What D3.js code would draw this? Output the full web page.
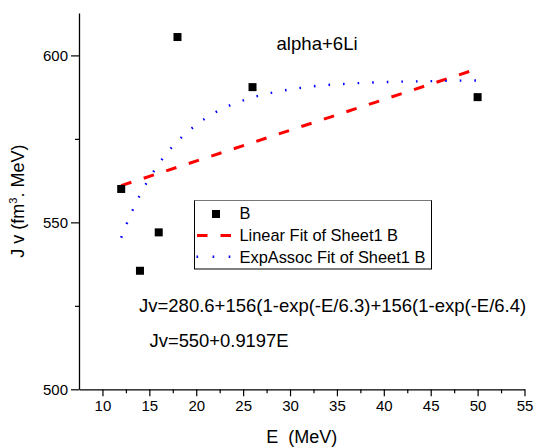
<!DOCTYPE html>
<html>
<head>
<meta charset="utf-8">
<script src="https://cdn.jsdelivr.net/npm/d3@7"></script>
<style>
  html, body { margin: 0; padding: 0; background: #fff; }
  svg { display: block; font-family: "Liberation Sans", Arial, sans-serif; }
</style>
</head>
<body>
<svg id="chart" width="537" height="447"></svg>
<script>
// ---- data ----
const pointE  = [12, 14, 16, 18, 26, 50];
const pointJv = [560.0, 535.5, 547.0, 605.5, 590.5, 587.5];

const linearE  = [12, 50];
const linearJv = [561.0, 596.0];

const expE  = [12, 12.5, 13, 14, 15, 16, 17, 18, 19, 20, 22, 24, 26, 28, 30, 33, 36, 40, 45, 50];
const expJv = [545.4, 549.0, 552.3, 558.2, 563.2, 567.5, 571.2, 574.3, 576.9, 579.2, 582.9, 585.5, 587.4, 588.8, 589.8, 590.9, 591.5, 592.0, 592.3, 592.5];

const xTicks = [10, 15, 20, 25, 30, 35, 40, 45, 50, 55];
const xMinorTicks = [12.5, 17.5, 22.5, 27.5, 32.5, 37.5, 42.5, 47.5, 52.5];
const yTicks = [500, 550, 600];
const yMinorTicks = [525, 575];

const legendLabels = ["B", "Linear Fit of Sheet1 B", "ExpAssoc Fit of Sheet1 B"];
const annotationLabel = "alpha+6Li";
const eqExp = "Jv=280.6+156(1-exp(-E/6.3)+156(1-exp(-E/6.4)";
const eqLin = "Jv=550+0.9197E";

// ---- scales ----
const svg = d3.select("#chart");
const x = d3.scaleLinear().domain([7.5, 55]).range([79, 524.5]);
const y = d3.scaleLinear().domain([500, 612.7]).range([389.3, 13]);

// ---- axes ----
const xAxis = svg.append("g").attr("transform", `translate(0,${y(500)})`);
xAxis.call(d3.axisBottom(x).tickValues(xTicks).tickSize(7).tickPadding(4).tickSizeOuter(0));
const xMinor = svg.append("g").attr("transform", `translate(0,${y(500)})`);
xMinor.call(d3.axisBottom(x).tickValues(xMinorTicks).tickSize(4).tickFormat("").tickSizeOuter(0));
xMinor.select(".domain").remove();

const yAxis = svg.append("g").attr("transform", `translate(${x(7.5)},0)`);
yAxis.call(d3.axisLeft(y).tickValues(yTicks).tickSize(8).tickPadding(3).tickSizeOuter(0));
const yMinor = svg.append("g").attr("transform", `translate(${x(7.5)},0)`);
yMinor.call(d3.axisLeft(y).tickValues(yMinorTicks).tickSize(4).tickFormat("").tickSizeOuter(0));
yMinor.select(".domain").remove();

svg.selectAll(".domain").attr("stroke", "#000").attr("stroke-width", 1.3);
svg.selectAll(".tick line").attr("stroke", "#000").attr("stroke-width", 1.2);
svg.selectAll(".tick text")
  .attr("font-family", "'Liberation Sans', Arial, sans-serif")
  .attr("font-size", 15).attr("fill", "#000");

// ---- axis titles ----
svg.append("text")
  .attr("x", (x(7.5) + x(55)) / 2).attr("y", 443)
  .attr("text-anchor", "middle").attr("font-size", 18)
  .attr("xml:space", "preserve")
  .text("E  (MeV)");

const yt = svg.append("text")
  .attr("transform", `translate(23.5,${(y(500) + y(612.7)) / 2}) rotate(-90)`)
  .attr("text-anchor", "middle").attr("font-size", 18);
yt.append("tspan").text("J v (fm");
yt.append("tspan").attr("font-size", 11).attr("dy", -7).text("3");
yt.append("tspan").attr("dy", 7).text(". MeV)");

// ---- fit curves ----
const linearData = linearE.map((e, i) => [e, linearJv[i]]);
const expData = expE.map((e, i) => [e, expJv[i]]);

svg.append("path")
  .attr("d", d3.line().x(d => x(d[0])).y(d => y(d[1]))(linearData))
  .attr("fill", "none").attr("stroke", "#ff0000").attr("stroke-width", 3)
  .attr("stroke-dasharray", "10.7 13");

svg.append("path")
  .attr("d", d3.line().x(d => x(d[0])).y(d => y(d[1])).curve(d3.curveMonotoneX)(expData))
  .attr("fill", "none").attr("stroke", "#0000ff").attr("stroke-width", 2.4)
  .attr("stroke-dasharray", "1.6 13");

// ---- points ----
svg.selectAll("rect.pt")
  .data(pointE.map((e, i) => [e, pointJv[i]]))
  .enter().append("rect").attr("class", "pt")
  .attr("x", d => x(d[0]) - 4).attr("y", d => y(d[1]) - 4)
  .attr("width", 8).attr("height", 8).attr("fill", "#000");

// ---- legend ----
const lg = svg.append("g");
lg.append("rect")
  .attr("x", 194.5).attr("y", 200.5).attr("width", 237).attr("height", 68.5)
  .attr("fill", "#fff").attr("stroke", "#000").attr("stroke-width", 1);
lg.append("line").attr("x1", 194.5).attr("x2", 431.5).attr("y1", 200.5).attr("y2", 200.5)
  .attr("stroke", "#777").attr("stroke-width", 1.2);
lg.append("rect").attr("x", 212).attr("y", 210).attr("width", 8).attr("height", 8).attr("fill", "#000");
lg.append("line").attr("x1", 197).attr("x2", 231).attr("y1", 235.5).attr("y2", 235.5)
  .attr("stroke", "#ff0000").attr("stroke-width", 3).attr("stroke-dasharray", "10.5 13");
lg.append("line").attr("x1", 196.5).attr("x2", 231).attr("y1", 256.7).attr("y2", 256.7)
  .attr("stroke", "#0000ff").attr("stroke-width", 2.4).attr("stroke-dasharray", "1.6 14.5");
const legendY = [219, 241, 263];
legendLabels.forEach((t, i) => {
  lg.append("text").attr("x", 239.5).attr("y", legendY[i]).attr("font-size", 16.4).text(t);
});

// ---- annotations ----
svg.append("text").attr("x", 276.5).attr("y", 50).attr("font-size", 18.6).text(annotationLabel);
svg.append("text").attr("x", 139).attr("y", 312).attr("font-size", 18.5).text(eqExp);
svg.append("text").attr("x", 149.5).attr("y", 346.5).attr("font-size", 18.4).text(eqLin);
</script>
</body>
</html>
